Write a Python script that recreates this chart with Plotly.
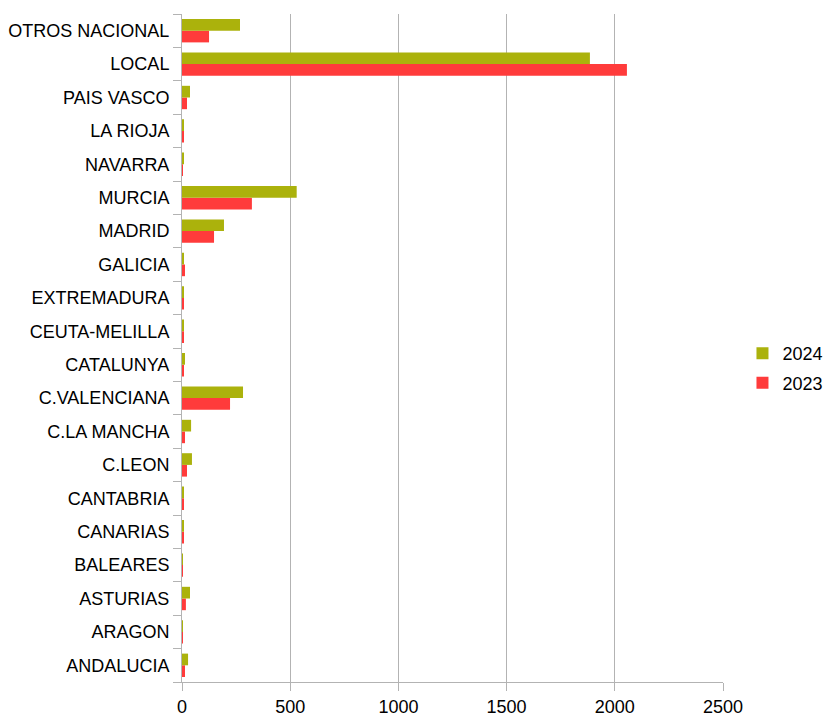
import plotly.graph_objects as go

categories = ["ANDALUCIA", "ARAGON", "ASTURIAS", "BALEARES", "CANARIAS", "CANTABRIA",
              "C.LEON", "C.LA MANCHA", "C.VALENCIANA", "CATALUNYA", "CEUTA-MELILLA",
              "EXTREMADURA", "GALICIA", "MADRID", "MURCIA", "NAVARRA", "LA RIOJA",
              "PAIS VASCO", "LOCAL", "OTROS NACIONAL"]
values_2024 = [28, 4, 37, 4, 9, 9, 46, 42, 282, 14, 5, 9, 9, 194, 530, 5, 5, 37, 1885, 268]
values_2023 = [14, 4, 18, 4, 5, 5, 23, 14, 222, 9, 5, 5, 14, 148, 323, 4, 5, 23, 2056, 125]
x_ticks = [0, 500, 1000, 1500, 2000, 2500]

fig = go.Figure()
fig.add_trace(go.Bar(y=categories, x=values_2023, name="2023", orientation="h",
                     legendrank=2, legendgroup="g2023",
                     marker=dict(color="#ff3b3b", line=dict(width=0))))
fig.add_trace(go.Bar(y=categories, x=values_2024, name="2024", orientation="h",
                     legendrank=1, legendgroup="g2024",
                     marker=dict(color="#abb20c", line=dict(width=0))))

fig.update_layout(
    width=826, height=718,
    margin=dict(l=182, r=103, t=14, b=36, autoexpand=False),
    barmode="group", bargap=0.3, bargroupgap=0,
    plot_bgcolor="white", paper_bgcolor="white",
    font=dict(family="Liberation Sans, Arial, sans-serif", size=18, color="#000000"),
    legend=dict(x=1.036, y=0.47, xanchor="left", yanchor="middle",
                font=dict(size=18), itemwidth=30, traceorder="grouped",
                tracegroupgap=3, borderwidth=0),
    showlegend=True,
)
fig.update_xaxes(range=[0, 2500], tickvals=x_ticks, ticktext=[str(v) for v in x_ticks],
                 showgrid=True, gridcolor="#b3b3b3", gridwidth=1,
                 showline=True, linecolor="#b3b3b3", linewidth=1, mirror=False,
                 ticks="outside", ticklen=8, tickcolor="#b3b3b3", zeroline=False,
                 automargin=False)
fig.update_yaxes(categoryorder="array", categoryarray=categories,
                 showline=True, linecolor="#b3b3b3", linewidth=1,
                 ticks="outside", tickson="boundaries", ticklen=8, tickcolor="#b3b3b3",
                 showgrid=False, zeroline=False, ticklabelstandoff=8, automargin=False)

fig.write_html("out.html", config={"displayModeBar": False},
               post_script="document.body.style.margin='0px';document.body.style.overflow='hidden';")
